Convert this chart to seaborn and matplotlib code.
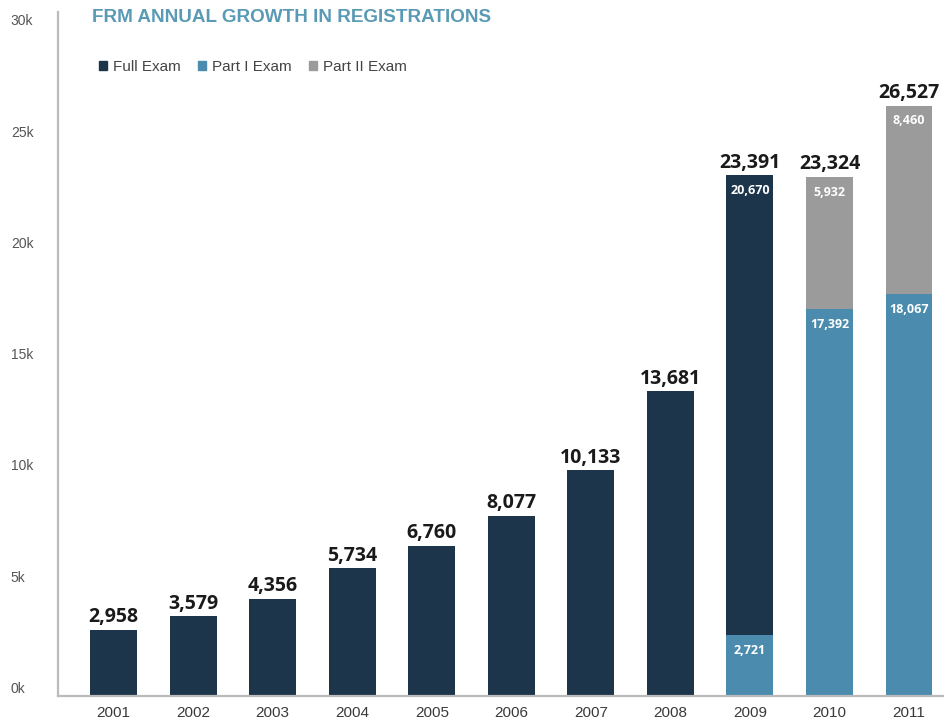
import matplotlib
matplotlib.use("Agg")
import matplotlib.pyplot as plt
import matplotlib.patches as mpatches
import seaborn as sns
import pandas as pd
import numpy as np

years = ["2001", "2002", "2003", "2004", "2005", "2006", "2007", "2008", "2009", "2010", "2011"]
full_exam = [2958, 3579, 4356, 5734, 6760, 8077, 10133, 13681, 20670, 0, 0]
part1_exam = [0, 0, 0, 0, 0, 0, 0, 0, 2721, 17392, 18067]
part2_exam = [0, 0, 0, 0, 0, 0, 0, 0, 0, 5932, 8460]
y_ticks = [0, 5000, 10000, 15000, 20000, 25000, 30000]
y_tick_labels = ["0k", "5k", "10k", "15k", "20k", "25k", "30k"]
title = "FRM ANNUAL GROWTH IN REGISTRATIONS"
series_names = ["Full Exam", "Part I Exam", "Part II Exam"]

C_FULL = "#1d354b"
C_P1 = "#4b8cae"
C_P2 = "#9b9b9b"
C_TITLE = "#5a9ab4"

sns.set_style("white")
plt.rcParams["font.family"] = ["Liberation Sans", "DejaVu Sans"]

df = pd.DataFrame({"year": years, "full": full_exam, "p1": part1_exam, "p2": part2_exam})
df["total"] = df["full"] + df["p1"] + df["p2"]

fig = plt.figure(figsize=(9.45, 7.24), dpi=100)
W, H = 945, 724
ax = fig.add_axes([58 / W, 1 - 696 / H, (944 - 58) / W, (696 - 12) / H])

bw = 0.59
sns.barplot(data=df, x="year", y="p1", color=C_P1, width=bw, linewidth=0, ax=ax, saturation=1)
sns.barplot(data=df, x="year", y="full", color=C_FULL, width=bw, linewidth=0, ax=ax,
            saturation=1, bottom=df["p1"].values)
sns.barplot(data=df, x="year", y="p2", color=C_P2, width=bw, linewidth=0, ax=ax,
            saturation=1, bottom=df["p1"].values)

ax.set_xlim(-0.70, 10.44)
ax.set_ylim(0, 30730)
ax.set_xlabel("")
ax.set_ylabel("")
ax.set_yticks(y_ticks)
ax.set_yticklabels(y_tick_labels)
ax.tick_params(axis="y", length=0, pad=34, labelsize=10, labelcolor="#555555")
ax.tick_params(axis="x", length=0, pad=7, labelsize=11, labelcolor="#3a3a3a")
plt.setp(ax.get_yticklabels(), ha="left", va="bottom")

for s in ["top", "right"]:
    ax.spines[s].set_visible(False)
for s in ["left", "bottom"]:
    ax.spines[s].set_color("#bbbbbb")
    ax.spines[s].set_linewidth(1.6)

# totals
for i, t in enumerate(df["total"]):
    ax.annotate(f"{t:,}", xy=(i, t), xytext=(0, 2), textcoords="offset points",
                ha="center", va="bottom", fontsize=14, fontweight="bold",
                color="#1a1a1a", family=["Open Sans", "DejaVu Sans"])

# segment labels
def seg_label(i, top, val):
    ax.annotate(f"{val:,}", xy=(i, top), xytext=(0, -11), textcoords="offset points",
                ha="center", va="center", fontsize=9, fontweight="bold",
                color="white", family=["Open Sans", "DejaVu Sans"])

for i in range(len(years)):
    p1, fu, p2 = part1_exam[i], full_exam[i], part2_exam[i]
    if p1 > 0 and (fu > 0 or p2 > 0):
        seg_label(i, p1, p1)
        if fu > 0:
            seg_label(i, p1 + fu, fu)
        if p2 > 0:
            seg_label(i, p1 + p2, p2)

fig.text(92 / W, 1 - 18 / H, title, ha="left", va="center", fontsize=13.6,
         fontweight="bold", color=C_TITLE)

handles = [mpatches.Patch(color=c, label=n) for c, n in zip([C_FULL, C_P1, C_P2], series_names)]
leg = fig.legend(handles=handles, loc="center left", bbox_to_anchor=(88 / W, 1 - 67 / H),
                 ncol=3, frameon=False, fontsize=11, handlelength=0.55, handleheight=0.55,
                 handletextpad=0.4, columnspacing=1.1, labelcolor="#444444",
                 borderpad=0.2)

fig.savefig("out.png", dpi=100)
